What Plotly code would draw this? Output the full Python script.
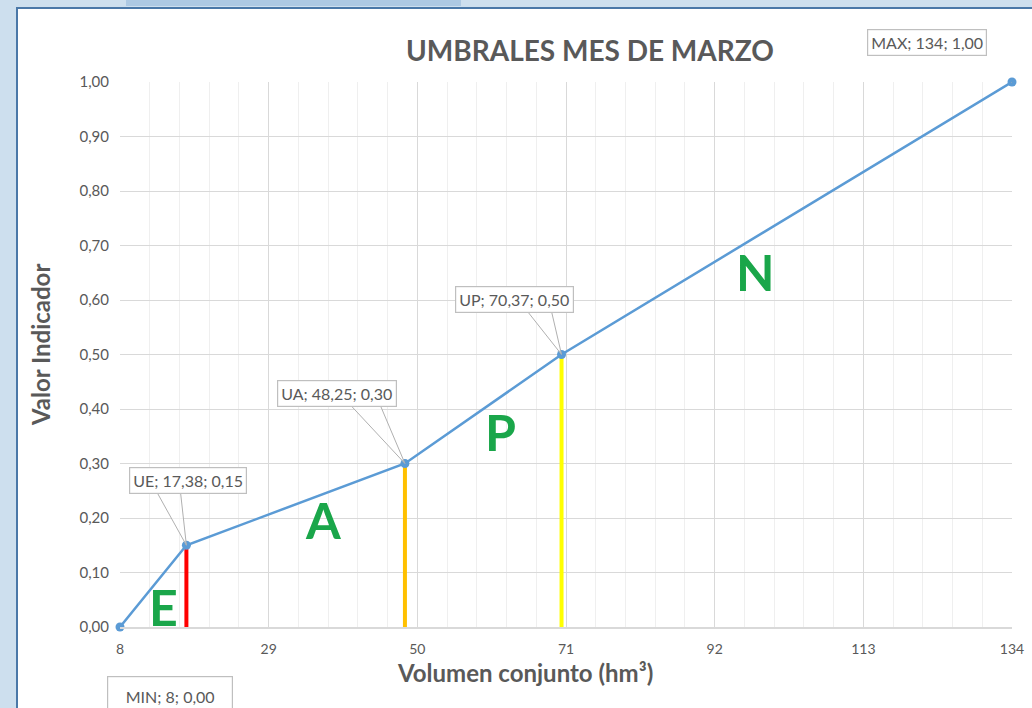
import plotly.graph_objects as go

# ---- data ----
point_names = ["MIN", "UE", "UA", "UP", "MAX"]
volumen = [8, 17.38, 48.25, 70.37, 134]
indicador = [0.00, 0.15, 0.30, 0.50, 1.00]
label_texts = ["MIN; 8; 0,00", "UE; 17,38; 0,15", "UA; 48,25; 0,30", "UP; 70,37; 0,50", "MAX; 134; 1,00"]
threshold_names = ["UE", "UA", "UP"]
threshold_colors = ["#ff0000", "#ffc000", "#ffff00"]
zone_letters = ["E", "A", "P", "N"]
x_ticks = [8, 29, 50, 71, 92, 113, 134]
y_ticks = [0, 0.1, 0.2, 0.3, 0.4, 0.5, 0.6, 0.7, 0.8, 0.9, 1.0]

W, H = 1032, 708
L, R, T, B = 120, 20, 82, 81
PW, PH = W - L - R, H - T - B

def px(xp):
    return (xp - L) / PW

def py(yp):
    return (H - B - yp) / PH

FONT = "Lato, 'Open Sans', sans-serif"
GRAY = "#595959"

fig = go.Figure()

# threshold vertical lines
for name, col in zip(threshold_names, threshold_colors):
    i = point_names.index(name)
    fig.add_trace(go.Scatter(x=[volumen[i], volumen[i]], y=[0, indicador[i]],
                             mode="lines", line=dict(color=col, width=4),
                             hoverinfo="skip", showlegend=False, cliponaxis=False))

# main line
fig.add_trace(go.Scatter(x=volumen, y=indicador, mode="lines+markers",
                         line=dict(color="#5b9bd5", width=2.5),
                         marker=dict(color="#5b9bd5", size=9),
                         showlegend=False, cliponaxis=False))

shapes = []
# background frame
shapes.append(dict(type="rect", xref="paper", yref="paper", x0=px(0), x1=px(W), y0=py(H), y1=py(0),
                   fillcolor="#cddfee", line=dict(width=0), layer="below"))
shapes.append(dict(type="rect", xref="paper", yref="paper", x0=px(126), x1=px(461), y0=py(6), y1=py(0),
                   fillcolor="#adc9e3", line=dict(width=0), layer="below"))
shapes.append(dict(type="rect", xref="paper", yref="paper", x0=px(17), x1=px(W + 5), y0=py(H + 5), y1=py(8),
                   fillcolor="#ffffff", line=dict(color="#4a78a8", width=2), layer="below"))

# callout labels: (box center dx, dy), wedge base (dx1, dx2, dy), box size (w, h) in pixels
callouts = {
    "MIN": ((50, -69), (8, 40, -50), (118, 32)),
    "UE": ((2, 65), (-30, -6, 54), (None, None)),
    "UA": ((-68, 70), (-55, -25, 59), (None, None)),
    "UP": ((-47, 55), (-34, -10, 43), (None, None)),
    "MAX": ((-85, 40), (-77, -47, 27), (None, None)),
}
annotations = []
for name, txt, xv, yv in zip(point_names, label_texts, volumen, indicador):
    (cdx, cdy), (w1, w2, wy), (bw, bh) = callouts[name]
    shapes.append(dict(type="path", xref="x", yref="y", xsizemode="pixel", ysizemode="pixel",
                       xanchor=xv, yanchor=yv,
                       path=f"M {w1},{wy} L 0,0 L {w2},{wy} Z",
                       fillcolor="rgba(255,255,255,0.6)", line=dict(color="#b0b0b0", width=1),
                       layer="above"))
    ann = dict(x=xv, y=yv, xref="x", yref="y", xshift=cdx, yshift=cdy,
               xanchor="center", yanchor="middle",
               text=txt, showarrow=False, bgcolor="#ffffff",
               bordercolor="#bfbfbf", borderwidth=1.2, borderpad=3,
               font=dict(family=FONT, size=16, color=GRAY))
    if bw:
        ann["width"] = bw
        ann["height"] = bh
        ann["valign"] = "middle"
    annotations.append(ann)

# zone letters
letter_pos = [(163, 607), (323, 520), (500, 432), (755, 272)]
for letter, (lx, ly) in zip(zone_letters, letter_pos):
    annotations.append(dict(x=px(lx), y=py(ly), xref="paper", yref="paper", text=f"<b>{letter}</b>",
                            xanchor="center", yanchor="middle",
                            showarrow=False, font=dict(family=FONT, size=50, color="#1aa64a")))

# title and axis titles
annotations.append(dict(x=px(590), y=py(50), xref="paper", yref="paper",
                        xanchor="center", yanchor="middle",
                        text="<b>UMBRALES MES DE MARZO</b>", showarrow=False,
                        font=dict(family=FONT, size=28, color=GRAY)))
annotations.append(dict(x=px(40), y=py(345), xref="paper", yref="paper",
                        xanchor="center", yanchor="middle",
                        text="<b>Valor Indicador</b>", showarrow=False, textangle=-90,
                        font=dict(family=FONT, size=24, color=GRAY)))
annotations.append(dict(x=px(525), y=py(672), xref="paper", yref="paper",
                        xanchor="center", yanchor="middle",
                        text="<b>Volumen conjunto (hm³)</b>", showarrow=False,
                        font=dict(family=FONT, size=24, color=GRAY)))

fig.update_layout(
    width=W, height=H, margin=dict(l=L, r=R, t=T, b=B, autoexpand=False),
    paper_bgcolor="#ffffff", plot_bgcolor="rgba(0,0,0,0)",
    separators=",.",
    shapes=shapes, annotations=annotations,
    font=dict(family=FONT, color=GRAY),
    xaxis=dict(range=[8, 134], tickvals=x_ticks, ticktext=[str(v) for v in x_ticks],
               automargin=False,
               showgrid=True, gridcolor="#d9d9d9", gridwidth=1,
               minor=dict(dtick=4.2, tick0=8, showgrid=True, gridcolor="#efefef", gridwidth=1),
               showline=True, linecolor="#d9d9d9", linewidth=1.5, zeroline=False,
               ticks="", tickfont=dict(family=FONT, size=14, color=GRAY), ticklabelstandoff=8),
    yaxis=dict(range=[0, 1], tickvals=y_ticks, tickformat=".2f",
               automargin=False,
               showgrid=True, gridcolor="#d9d9d9", gridwidth=1,
               showline=False, zeroline=False, ticks="",
               tickfont=dict(family=FONT, size=15, color=GRAY), ticklabelstandoff=10),
)

fig.write_html("out.html", config={"displayModeBar": False},
               post_script="document.body.style.margin='0';document.body.style.overflow='hidden';")
